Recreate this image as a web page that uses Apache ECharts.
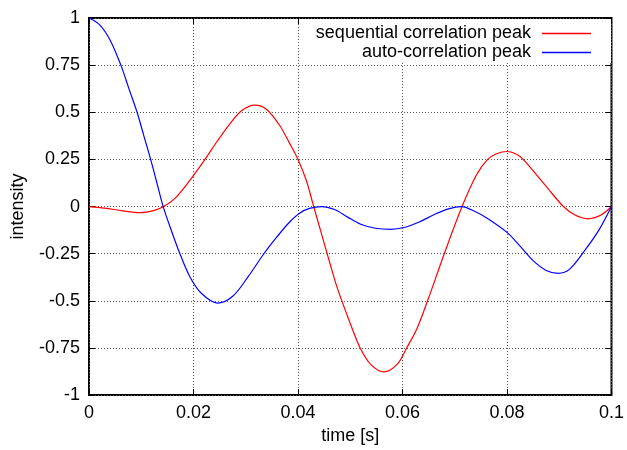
<!DOCTYPE html>
<html>
<head>
<meta charset="utf-8">
<script src="https://cdn.jsdelivr.net/npm/echarts@6/dist/echarts.min.js"></script>
<style>
  html, body { margin: 0; padding: 0; background: #fff; }
  #chart { width: 627px; height: 450px; }
</style>
</head>
<body>
<div id="chart"></div>
<script>
// sequential correlation peak: time [s] and intensity, sampled at turning points and in between
const seqTime = [
  0, 0.003, 0.0065, 0.0098, 0.0125, 0.0143, 0.0165, 0.0185, 0.02, 0.0222,
  0.0245, 0.027, 0.0292, 0.0317, 0.034, 0.0365, 0.0384, 0.04, 0.0416, 0.0429,
  0.0445, 0.046, 0.0475, 0.05, 0.0519, 0.054, 0.0565, 0.059, 0.0608, 0.0628,
  0.0648, 0.068, 0.0714, 0.0741, 0.0763, 0.078, 0.08, 0.082, 0.0831, 0.0855,
  0.088, 0.0908, 0.093, 0.0955, 0.098, 0.1
]
const seqValue = [
  0, -0.008, -0.023, -0.032, -0.02, 0, 0.045, 0.11, 0.165, 0.25,
  0.345, 0.44, 0.508, 0.538, 0.515, 0.43, 0.335, 0.25, 0.138, 0.01,
  -0.145, -0.29, -0.43, -0.62, -0.75, -0.84, -0.877, -0.836, -0.75, -0.645,
  -0.5, -0.25, 0, 0.165, 0.25, 0.28, 0.292, 0.275, 0.25, 0.173,
  0.09, 0, -0.045, -0.065, -0.045, 0
]
// auto-correlation peak
const autoTime = [
  0, 0.002, 0.004, 0.0061, 0.0077, 0.0092, 0.0105, 0.0118, 0.013, 0.0142,
  0.0158, 0.0174, 0.0193, 0.0215, 0.0246, 0.0275, 0.0305, 0.0334, 0.036, 0.0384,
  0.0403, 0.0422, 0.0445, 0.047, 0.0495, 0.052, 0.0548, 0.0577, 0.0605, 0.0632,
  0.0661, 0.0688, 0.0713, 0.0738, 0.0762, 0.08, 0.0825, 0.085, 0.0875, 0.0898,
  0.092, 0.0951, 0.0977, 0.1
]
const autoValue = [
  1, 0.965, 0.885, 0.75, 0.62, 0.5, 0.375, 0.25, 0.125, 0,
  -0.13, -0.25, -0.372, -0.46, -0.512, -0.476, -0.37, -0.253, -0.16, -0.082,
  -0.035, -0.01, 0, -0.016, -0.056, -0.094, -0.115, -0.121, -0.11, -0.082,
  -0.042, -0.012, 0, -0.025, -0.062, -0.137, -0.21, -0.287, -0.339, -0.354,
  -0.332, -0.225, -0.12, 0
]
const seriesNames = ['sequential correlation peak', 'auto-correlation peak']

const font = 'Liberation Sans, Arial, Helvetica, sans-serif'
const gridLine = { show: true, lineStyle: { color: '#555', type: [1, 2], width: 1 } }
const innerTick = { show: true, inside: true, length: 6, lineStyle: { color: '#000', width: 1 } }

const chart = echarts.init(document.getElementById('chart'))

chart.setOption({
  animation: false,
  textStyle: { fontFamily: font },
  grid: {
    left: 89, right: 15, top: 18, bottom: 53,
    show: true, borderColor: '#000', borderWidth: 2
  },
  legend: {
    data: seriesNames,
    orient: 'vertical',
    right: 16,
    top: 19,
    align: 'right',
    icon: 'rect',
    itemWidth: 49,
    itemHeight: 1.3,
    itemGap: 0,
    padding: [5, 20, 1, 14],
    backgroundColor: '#fff',
    textStyle: { fontSize: 18, color: '#000', fontFamily: font, lineHeight: 19, padding: [0, 6, 0, 0] }
  },
  xAxis: [{
    type: 'value',
    min: 0, max: 0.1, interval: 0.02,
    name: 'time [s]',
    nameLocation: 'middle',
    nameGap: 30,
    nameTextStyle: { fontSize: 18, color: '#000', fontFamily: font },
    axisLine: { show: false, onZero: false },
    axisTick: innerTick,
    axisLabel: { fontSize: 18, color: '#000', margin: 9, fontFamily: font },
    splitLine: gridLine
  }, {
    type: 'value',
    position: 'top',
    min: 0, max: 0.1, interval: 0.02,
    axisLine: { show: false, onZero: false },
    axisTick: innerTick,
    axisLabel: { show: false },
    splitLine: { show: false }
  }],
  yAxis: [{
    type: 'value',
    min: -1, max: 1, interval: 0.25,
    name: 'intensity',
    nameLocation: 'middle',
    nameGap: 62,
    nameTextStyle: { fontSize: 18, color: '#000', fontFamily: font },
    axisLine: { show: false, onZero: false },
    axisTick: innerTick,
    axisLabel: { fontSize: 18, color: '#000', margin: 9, fontFamily: font },
    splitLine: gridLine
  }, {
    type: 'value',
    position: 'right',
    min: -1, max: 1, interval: 0.25,
    axisLine: { show: false, onZero: false },
    axisTick: innerTick,
    axisLabel: { show: false },
    splitLine: { show: false }
  }],
  series: [{
    name: seriesNames[0],
    type: 'line',
    data: seqTime.map((t, i) => [t, seqValue[i]]),
    smooth: 0.33,
    symbol: 'none',
    lineStyle: { color: '#ff0000', width: 1.2 },
    itemStyle: { color: '#ff0000' }
  }, {
    name: seriesNames[1],
    type: 'line',
    data: autoTime.map((t, i) => [t, autoValue[i]]),
    smooth: 0.33,
    symbol: 'none',
    lineStyle: { color: '#0000ff', width: 1.2 },
    itemStyle: { color: '#0000ff' }
  }]
})
</script>
</body>
</html>
